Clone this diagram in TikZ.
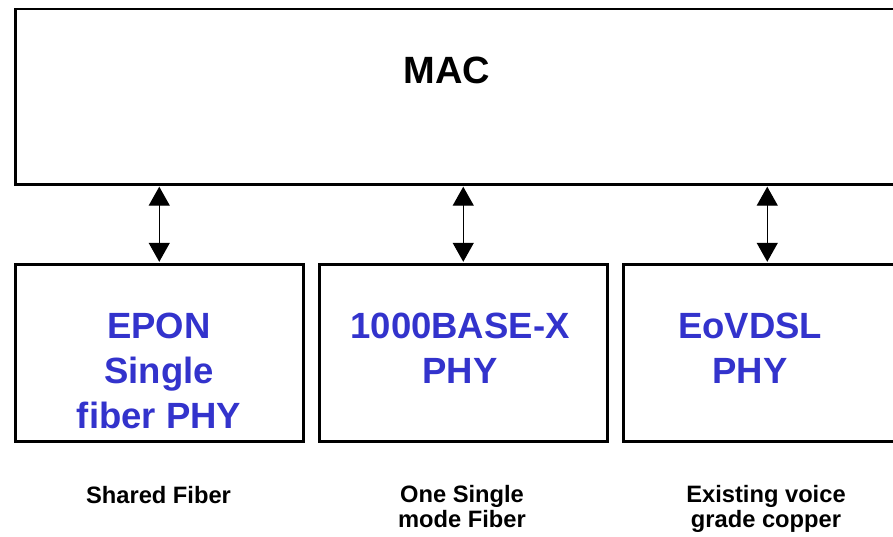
\documentclass[tikz,border=0pt]{standalone}
\usepackage{fontspec}
\setmainfont{Liberation Sans}
\usetikzlibrary{arrows.meta}
\definecolor{phyblue}{RGB}{51,51,204}
\tikzset{
  blockbox/.style={draw=black, line width=2.5pt, rectangle, inner sep=0pt},
  dblarrow/.style={line width=1.3pt, {Triangle[width=21pt,length=19pt]}-{Triangle[width=21pt,length=19pt]}, shorten <=1.2pt, shorten >=1.2pt},
  phytext/.style={text=phyblue, font=\fontsize{36.5}{45}\selectfont\bfseries, align=center, anchor=base, inner sep=0pt},
  mactext/.style={text=black, font=\fontsize{38}{45}\selectfont\bfseries, anchor=base, inner sep=0pt},
  medtext/.style={text=black, font=\fontsize{23.7}{25}\selectfont\bfseries, align=center, anchor=base, inner sep=0pt}
}
\begin{document}
\begin{tikzpicture}[x=1pt,y=-1pt]
\useasboundingbox (0,0) rectangle (893,536);
% boxes
\node[blockbox, minimum width=896pt, minimum height=175.5pt, anchor=north west] (mac) at (14,7.5) {};
\node[blockbox, minimum width=288pt, minimum height=177pt, anchor=north west] (epon) at (14,263) {};
\node[blockbox, minimum width=288pt, minimum height=177pt, anchor=north west] (gbx) at (318,263) {};
\node[blockbox, minimum width=288pt, minimum height=177pt, anchor=north west] (vdsl) at (622,263) {};
% arrows
\draw[dblarrow] (epon.north |- mac.south) -- (epon.north);
\draw[dblarrow] (gbx.north |- mac.south) -- (gbx.north);
\draw[dblarrow] (vdsl.north |- mac.south) -- (vdsl.north);
% texts
\node[mactext] (mact) at (447,83) {MAC};
\node[phytext] (epont) at (159,428) {EPON\\Single\\fiber PHY};
\node[phytext] (gbxt) at (460,383) {1000BASE-X\\PHY};
\node[phytext] (vdslt) at (750,383) {EoVDSL\\PHY};
\node[medtext] (m1) at (158.5,503) {Shared Fiber};
\node[medtext] (m2) at (462,527) {One Single\\mode Fiber};
\node[medtext] (m3) at (766,527) {Existing voice\\grade copper};
\end{tikzpicture}
\end{document}
